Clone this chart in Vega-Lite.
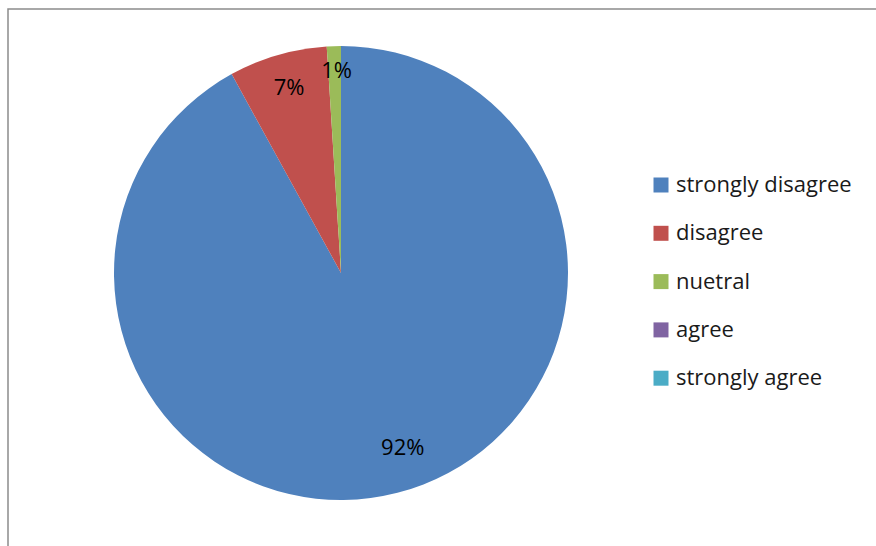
{
  "$schema": "https://vega.github.io/schema/vega-lite/v6.json",
  "usermeta": {"embedOptions": {"actions": false}},
  "width": 884,
  "height": 552,
  "autosize": {"type": "none"},
  "padding": {"left": 8, "top": 9, "right": -16, "bottom": -15},
  "background": "white",
  "view": {"stroke": "#8c8c8c", "strokeWidth": 1.5},
  "config": {
    "view": {"stroke": "#8c8c8c", "strokeWidth": 1.5},
    "font": "Open Sans"
  },
  "data": {
    "values": [
      {"response": "strongly disagree", "value": 92},
      {"response": "disagree", "value": 7},
      {"response": "nuetral", "value": 1},
      {"response": "agree", "value": 0},
      {"response": "strongly agree", "value": 0}
    ]
  },
  "transform": [{"calculate": "datum.value + '%'", "as": "label"}],
  "encoding": {
    "theta": {"field": "value", "type": "quantitative", "stack": true},
    "order": {"field": "value", "type": "quantitative", "sort": "descending"},
    "color": {
      "field": "response",
      "type": "nominal",
      "sort": ["strongly disagree", "disagree", "nuetral", "agree", "strongly agree"],
      "scale": {
        "domain": ["strongly disagree", "disagree", "nuetral", "agree", "strongly agree"],
        "range": ["#4F81BD", "#C0504D", "#9BBB59", "#8064A2", "#4BACC6"]
      },
      "legend": {
        "title": null,
        "orient": "none",
        "legendX": 642,
        "legendY": 165,
        "symbolType": "square",
        "symbolSize": 225,
        "symbolStrokeWidth": 0,
        "labelFontSize": 22,
        "labelColor": "#1a1a1a",
        "labelFont": "Open Sans",
        "labelOffset": 4,
        "rowPadding": 26.3,
        "labelLimit": 300
      }
    }
  },
  "layer": [
    {
      "mark": {"type": "arc", "outerRadius": 227, "x": 333, "y": 264}
    },
    {
      "mark": {"type": "text", "x": 333, "y": 264, "radius": 184, "dx": 16, "dy": -3, "fontSize": 22, "font": "Open Sans"},
      "encoding": {
        "text": {"condition": {"test": "datum.value > 50", "field": "label"}, "value": ""},
        "color": {"value": "#000000"}
      }
    },
    {
      "mark": {"type": "text", "x": 333, "y": 264, "radius": 193, "dx": 2, "fontSize": 22, "font": "Open Sans"},
      "encoding": {
        "text": {"condition": {"test": "datum.value > 5 && datum.value <= 50", "field": "label"}, "value": ""},
        "color": {"value": "#000000"}
      }
    },
    {
      "mark": {"type": "text", "x": 333, "y": 264, "radius": 203, "dx": 2, "dy": 1, "fontSize": 22, "font": "Open Sans"},
      "encoding": {
        "text": {"condition": {"test": "datum.value > 0 && datum.value <= 5", "field": "label"}, "value": ""},
        "color": {"value": "#000000"}
      }
    }
  ]
}
